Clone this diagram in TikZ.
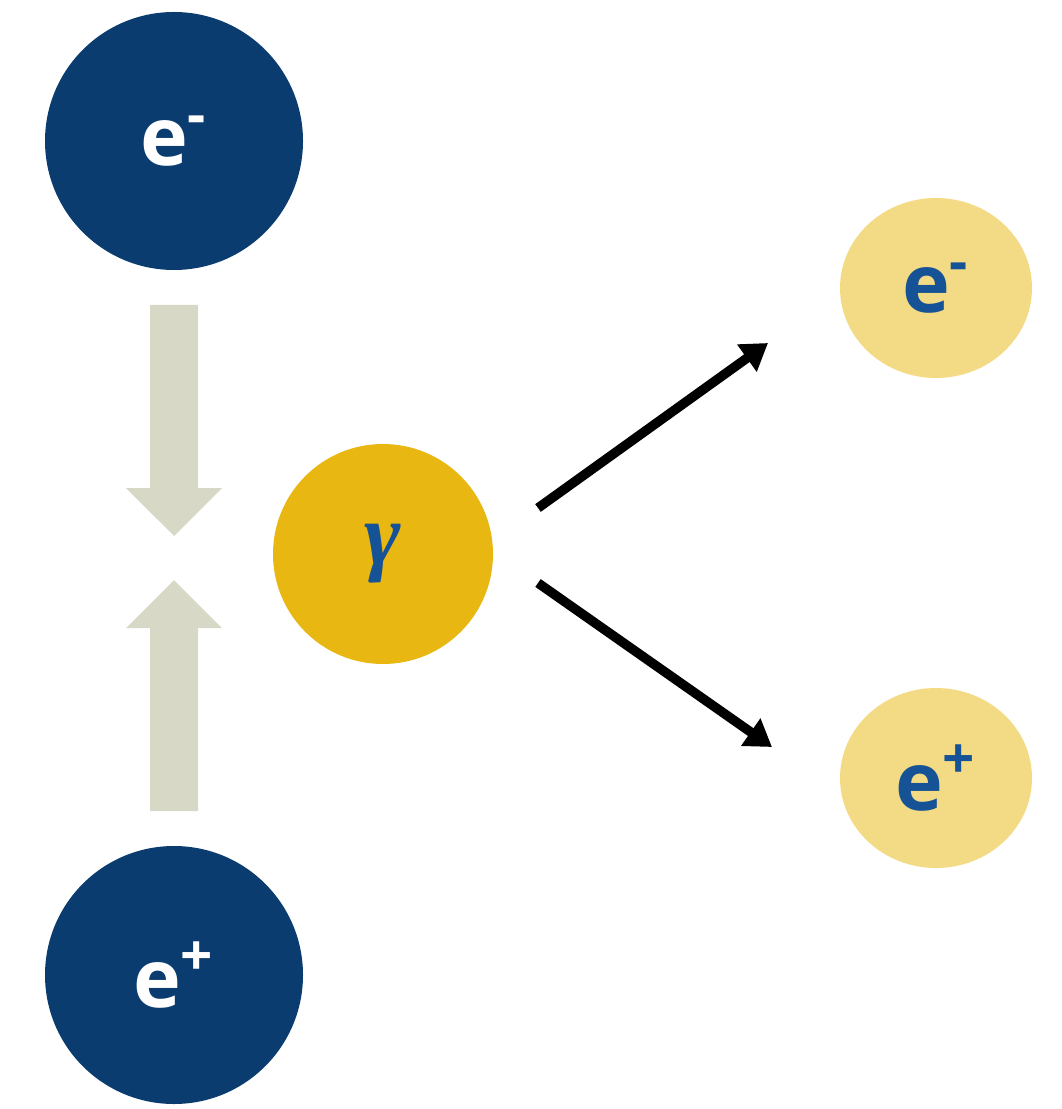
\documentclass[tikz,border=0pt]{standalone}
\usepackage{fontspec}
\setmainfont{Open Sans}
\newfontfamily\greekfont{Liberation Serif}
\usetikzlibrary{shapes.geometric,arrows.meta}

\begin{document}
\begin{tikzpicture}
    % Colours
    \definecolor{darkblue}{RGB}{10, 60, 112}
    \definecolor{gold}{RGB}{232, 183, 18}
    \definecolor{paleyellow}{RGB}{243, 219, 133}
    \definecolor{sage}{RGB}{215, 216, 198}
    \definecolor{textblue}{RGB}{22, 82, 150}

    \tikzset{
        particle/.style={circle, fill=darkblue, minimum size=2.58cm, inner sep=0pt,
            text=white, font=\fontsize{23}{28}\selectfont\bfseries},
        product/.style={ellipse, fill=paleyellow, minimum width=1.92cm, minimum height=1.80cm,
            inner sep=0pt, text=textblue, font=\fontsize{23}{28}\selectfont\bfseries},
        photon/.style={circle, fill=gold, minimum size=2.20cm, inner sep=0pt,
            text=textblue, font=\greekfont\fontsize{25}{28}\selectfont\bfseries\itshape},
        shoot/.style={line width=2.7pt, -{Triangle[length=0.26cm, width=0.32cm]}}
    }

    \useasboundingbox (0,0) rectangle (10.61,-11.09);

    % Incoming pair
    \node[particle] (eminus) at (1.74,-1.41) {e\textsuperscript{-}};
    \node[particle] (eplus) at (1.74,-9.75) {e\textsuperscript{+}};

    % Photon
    \node[photon] (gamma) at (3.83,-5.54) {γ};

    % Outgoing pair
    \node[product] (eout) at (9.36,-2.88) {e\textsuperscript{-}};
    \node[product] (pout) at (9.36,-7.78) {e\textsuperscript{+}};

    % Block arrows (collision)
    \fill[sage] (1.50,-3.05) -- (1.98,-3.05) -- (1.98,-4.88) -- (2.22,-4.88)
        -- (1.74,-5.36) -- (1.26,-4.88) -- (1.50,-4.88) -- cycle;
    \fill[sage] (1.50,-8.11) -- (1.98,-8.11) -- (1.98,-6.28) -- (2.22,-6.28)
        -- (1.74,-5.80) -- (1.26,-6.28) -- (1.50,-6.28) -- cycle;

    % Pair production
    \draw[shoot] ([shift={(1.55,0.46)}]gamma.center) -- ([shift={(-1.68,-0.55)}]eout.center);
    \draw[shoot] ([shift={(1.55,-0.29)}]gamma.center) -- ([shift={(-1.64,0.31)}]pout.center);

\end{tikzpicture}
\end{document}
